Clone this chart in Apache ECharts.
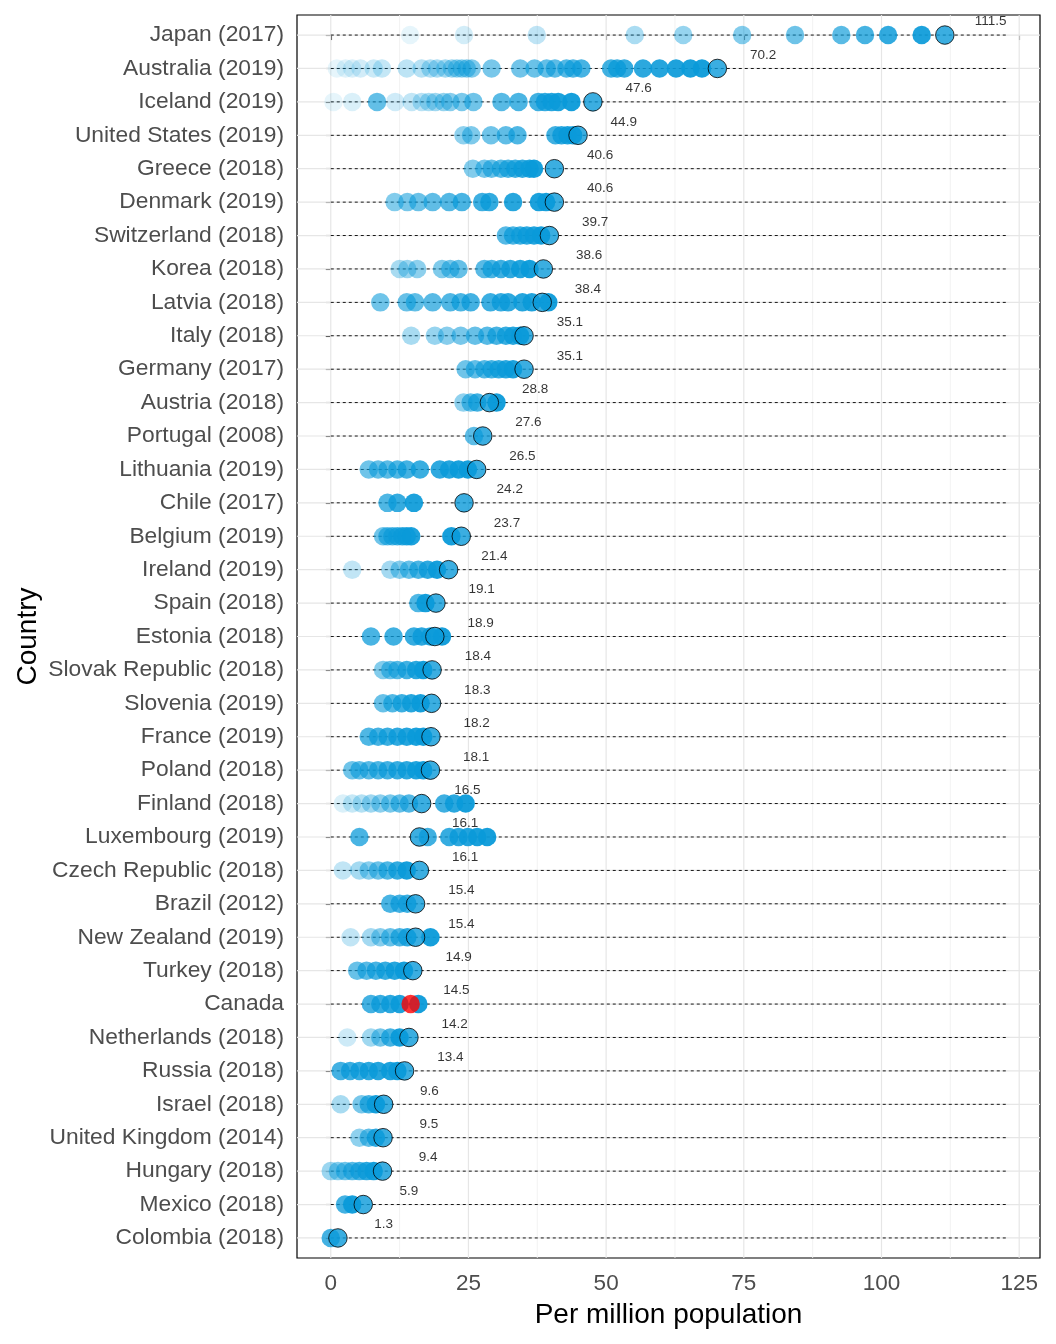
<!DOCTYPE html>
<html>
<head>
<meta charset="utf-8">
<script src="https://cdn.jsdelivr.net/npm/echarts@6/dist/echarts.min.js"></script>
<style>
html,body{margin:0;padding:0;background:#fff;}
#chart{width:1056px;height:1344px;}
</style>
</head>
<body>
<div id="chart"></div>
<script>
// ---- data ----
const countries = [
  "Japan (2017)","Australia (2019)","Iceland (2019)","United States (2019)","Greece (2018)",
  "Denmark (2019)","Switzerland (2018)","Korea (2018)","Latvia (2018)","Italy (2018)",
  "Germany (2017)","Austria (2018)","Portugal (2008)","Lithuania (2019)","Chile (2017)",
  "Belgium (2019)","Ireland (2019)","Spain (2018)","Estonia (2018)","Slovak Republic (2018)",
  "Slovenia (2019)","France (2019)","Poland (2018)","Finland (2018)","Luxembourg (2019)",
  "Czech Republic (2018)","Brazil (2012)","New Zealand (2019)","Turkey (2018)","Canada",
  "Netherlands (2018)","Russia (2018)","Israel (2018)","United Kingdom (2014)","Hungary (2018)",
  "Mexico (2018)","Colombia (2018)"
];
const finalValues = [
  111.5,70.2,47.6,44.9,40.6,40.6,39.7,38.6,38.4,35.1,
  35.1,28.8,27.6,26.5,24.2,23.7,21.4,19.1,18.9,18.4,
  18.3,18.2,18.1,16.5,16.1,16.1,15.4,15.4,14.9,14.5,
  14.2,13.4,9.6,9.5,9.4,5.9,1.3
];
const finalYears = [
  2017,2019,2019,2019,2018,2019,2018,2018,2018,2018,
  2017,2018,2008,2019,2017,2019,2019,2018,2018,2018,
  2019,2019,2018,2018,2019,2018,2012,2019,2018,2019,
  2018,2018,2018,2014,2018,2018,2018
];
// earlier observations, oldest first
const histories = [
  [14.4,24.2,37.4,55.2,64.0,74.7,84.3,92.7,97.0,101.2,107.3],
  [1.1,2.7,3.9,5.4,7.8,9.3,13.8,16.5,18.1,19.3,20.8,22.0,22.9,23.8,24.7,25.6,29.2,34.4,37.0,39.2,40.7,42.8,44.0,45.5,50.9,52.0,53.3,56.7,59.7,62.7,65.3,67.4],
  [0.5,3.9,11.7,14.7,16.5,17.8,19.0,20.5,21.7,23.8,25.9,8.4,31.0,34.1,37.7,38.9,40.1,41.3,43.7],
  [24.1,25.5,29.1,31.8,33.9,40.8,41.9,43.0,44.0],
  [25.8,27.9,29.2,30.9,32.2,33.5,34.8,36.1,36.9],
  [11.6,13.9,15.9,18.5,21.5,23.8,27.5,28.8,33.1,37.8,39.1],
  [31.8,33.1,34.4,35.6,36.9,38.2],
  [12.5,13.9,15.7,20.2,21.7,23.2,27.9,29.2,30.9,32.6,34.4,36.1],
  [9.0,13.8,15.3,18.5,21.7,23.6,25.4,29.0,30.9,32.2,34.8,36.5,39.5],
  [14.6,18.9,21.1,23.6,26.2,28.4,30.1,31.8,33.1,34.4],
  [24.5,26.2,27.9,29.2,30.5,31.8,33.1],
  [24.1,25.4,26.6,30.1],
  [26.0],
  [6.9,8.6,10.3,12.1,13.8,16.2,19.8,21.5,23.2,24.9],
  [10.3,12.1,15.1],
  [9.5,10.3,11.2,12.1,13.0,13.8,14.6,21.9],
  [3.9,10.8,12.5,14.2,15.9,17.6,19.3],
  [15.9,17.2],
  [7.3,11.4,15.1,16.5,18.1,20.2],
  [9.5,10.8,12.1,13.8,15.5,16.8],
  [9.5,11.2,12.9,14.6,16.3],
  [6.9,8.6,10.3,12.1,13.8,15.5,16.8],
  [3.9,5.2,6.9,8.6,10.3,12.1,13.8,15.5,16.8],
  [2.2,3.9,5.6,7.3,9.0,10.8,12.5,14.2,20.6,22.4,24.5],
  [5.2,17.6,21.5,23.2,24.9,26.6,28.4],
  [2.2,5.2,6.9,8.6,10.3,12.1,13.8],
  [10.8,12.5,13.9],
  [3.6,7.3,9.0,10.8,12.5,13.9,18.1],
  [4.8,6.5,8.2,9.9,11.6,13.3],
  [7.3,9.0,10.8,12.5,15.9],
  [3.0,7.3,9.0,10.8,12.5],
  [1.8,3.5,5.2,6.9,8.6,10.8,12.1],
  [1.8,5.6,6.9,8.2],
  [5.2,6.9,8.2],
  [0.0,1.3,2.6,3.9,5.2,6.5,7.8],
  [2.6,3.9],
  [0.0]
];
// year of each country's earliest observation
const firstYears = [
  1984,1984,1984,1998,2000,2000,2007,1994,2003,1994,
  2003,1998,2006,2003,2008,2003,1990,2008,2009,2000,
  2004,2008,2003,1986,2009,1990,2009,1990,2004,2010,
  1988,2010,1994,1998,1996,2010,2010
];
const highlightCountry = "Canada";
const xTicks = [0,25,50,75,100,125];
const xGridLines = [0,12.5,25,37.5,50,62.5,75,87.5,100,112.5,125];
const dashEnd = 122.6;
const labelNudgeX = 8.3;
const labelNudgeY = 0.4;
const xMin = -6.13, xMax = 128.78;

// ---- build ----
const BLUE = '#0a9ad9';
const FONT = 'Liberation Sans, Arial, sans-serif';
function alphaFor(year){
  const a = 0.1 + 0.9*(year-1984)/35;
  return Math.max(0.08, Math.min(0.95, a));
}
const histData = [];
histories.forEach((vals, i) => {
  const n = vals.length;
  const y0 = firstYears[i], y1 = finalYears[i]-1;
  vals.forEach((v, k) => {
    const yr = n > 1 ? y0 + k*(y1-y0)/(n-1) : y0;
    histData.push({value:[v, i], itemStyle:{opacity: alphaFor(yr)}});
  });
});
const finalData = finalValues.map((v,i) => {
  const isHi = countries[i] === highlightCountry;
  return {value:[v,i], itemStyle: isHi ? {color:'#ff0000', borderWidth:0} : {color:BLUE, borderColor:'#000', borderWidth:1}};
});
const labelData = finalValues.map((v,i) => ({value:[v+labelNudgeX, i-labelNudgeY, v]}));
const rowIdx = countries.map((c,i)=>i);

const chart = echarts.init(document.getElementById('chart'), null, {renderer:'canvas'});
chart.setOption({
  animation:false,
  backgroundColor:'#ffffff',
  grid:{left:297, right:16, top:15, bottom:86, show:true, borderColor:'#000', borderWidth:1.2, backgroundColor:'#fff'},
  xAxis:{
    type:'value', min:xMin, max:xMax,
    axisLine:{show:false},
    splitLine:{show:false},
    axisTick:{show:true, customValues:xTicks, length:5, lineStyle:{color:'#333', width:1.1}},
    axisLabel:{customValues:xTicks, color:'#4d4d4d', fontSize:22.5, fontFamily:FONT, margin:14},
    name:'Per million population', nameLocation:'middle', nameGap:43,
    nameTextStyle:{color:'#000', fontSize:28, fontFamily:FONT}
  },
  yAxis:{
    type:'value', min:-0.6, max:countries.length-1+0.6, inverse:true,
    axisLine:{show:false},
    splitLine:{show:false},
    axisTick:{show:true, customValues:rowIdx, length:5, lineStyle:{color:'#333', width:1.1}},
    axisLabel:{customValues:rowIdx, color:'#4d4d4d', fontSize:22.8, fontFamily:FONT, margin:13,
      formatter:(v)=>countries[Math.round(v)] || ''},
    name:'Country', nameLocation:'middle', nameGap:255, nameRotate:90, nameMoveOverlap:false,
    nameTextStyle:{color:'#000', fontSize:28, fontFamily:FONT}
  },
  series:[
    {
      type:'custom', silent:true, z:1,
      data:[0],
      renderItem:(params, api) => {
        const children = [];
        xGridLines.forEach(g => {
          const p0 = api.coord([g, -0.6]), p1 = api.coord([g, countries.length-1+0.6]);
          const major = xTicks.includes(g);
          children.push({type:'line', shape:{x1:p0[0],y1:p0[1],x2:p1[0],y2:p1[1]}, style:{stroke: major ? '#e6e6e6' : '#f0f0f0', lineWidth: major?1.2:0.9}});
        });
        rowIdx.forEach(r => {
          const p0 = api.coord([xMin, r]), p1 = api.coord([xMax, r]);
          children.push({type:'line', shape:{x1:p0[0],y1:p0[1],x2:p1[0],y2:p1[1]}, style:{stroke:'#e6e6e6', lineWidth:1.2}});
        });
        return {type:'group', children};
      }
    },
    {
      type:'custom', silent:true, z:2,
      data: rowIdx.map(r=>[0, dashEnd, r]),
      encode:{x:[0,1], y:2},
      renderItem:(params, api) => {
        const p0 = api.coord([api.value(0), api.value(2)]);
        const p1 = api.coord([api.value(1), api.value(2)]);
        return {type:'line', shape:{x1:p0[0],y1:p0[1],x2:p1[0],y2:p1[1]}, style:{stroke:'#000', lineWidth:0.9, lineDash:[3,3]}};
      }
    },
    {
      type:'scatter', z:3, symbol:'circle', symbolSize:18.5, silent:true,
      itemStyle:{color:BLUE},
      data:histData
    },
    {
      type:'scatter', z:4, symbol:'circle', symbolSize:18.5, silent:true,
      data:finalData
    },
    {
      type:'scatter', z:5, symbolSize:0, silent:true,
      data:labelData,
      label:{show:true, position:'inside', color:'#000', fontSize:13.5, fontFamily:FONT,
        formatter:(p)=>p.value[2].toFixed(1)}
    }
  ]
});
</script>
</body>
</html>
